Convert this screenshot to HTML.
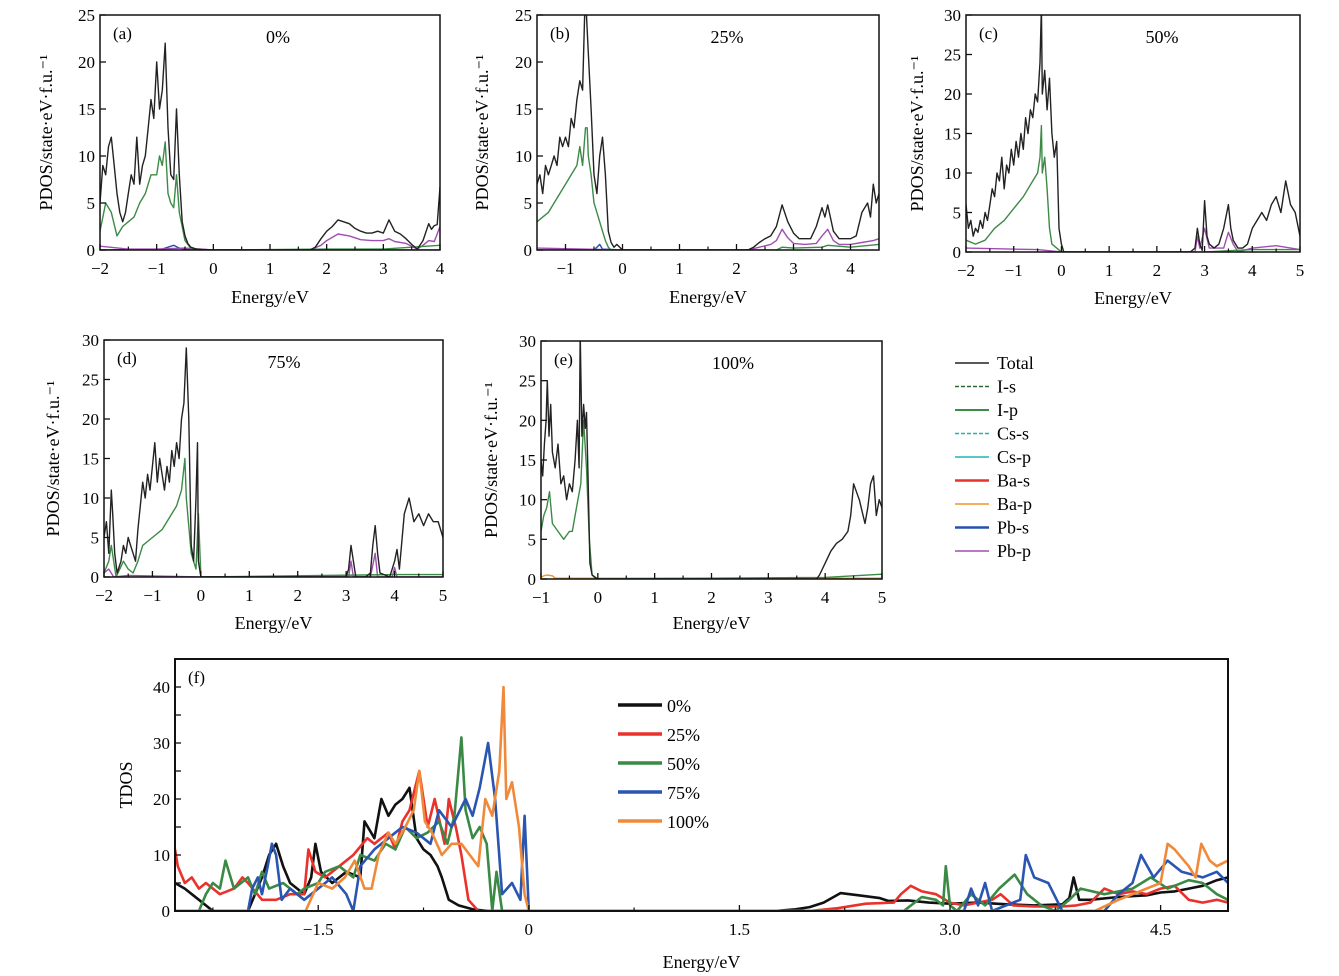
<!DOCTYPE html>
<html><head><meta charset="utf-8"><style>
body{margin:0;background:#fff;}
svg{display:block;font-family:"Liberation Serif",serif;}
</style></head><body>
<svg id="fig" width="1339" height="976" viewBox="0 0 1339 976"></svg>
<script>
// ---------- data: panel (a) 0% ----------
const aE=[-2,-1.95,-1.9,-1.85,-1.8,-1.75,-1.7,-1.65,-1.6,-1.55,-1.5,-1.45,-1.4,-1.35,-1.3,-1.25,-1.2,-1.15,-1.1,-1.05,-1,-0.95,-0.9,-0.85,-0.8,-0.75,-0.7,-0.65,-0.6,-0.55,-0.5,-0.45,-0.4,-0.3,-0.2,0,1,1.7,1.8,1.9,2,2.1,2.2,2.3,2.4,2.5,2.6,2.7,2.8,2.9,3,3.1,3.2,3.3,3.4,3.5,3.6,3.7,3.8,3.85,3.9,3.95,4];
const aTotal=[5,9,8,11,12,9,6,4,3,4,6,8,7,12,7,9,10,13,16,14,20,15,17,22,13,8,7.5,15,8,3,1.5,0.7,0.3,0.1,0.05,0,0,0,0.3,1.2,2,2.5,3.2,3,2.8,2.3,2,1.8,1.8,2,1.8,3.2,2,1.7,1.2,0.6,0.1,1,2.8,2.2,2.6,2.7,6.7];
const aIpE=[-2,-1.9,-1.8,-1.7,-1.6,-1.5,-1.4,-1.3,-1.2,-1.1,-1,-0.95,-0.9,-0.85,-0.8,-0.75,-0.7,-0.65,-0.6,-0.5,-0.4,-0.3,0,2,3,4];
const aIp=[2,5,4,1.5,2.5,3,3.5,5,6,8,8,10,9,11.5,6,5,4.5,8,4,1,0.2,0,0,0.1,0.1,0.5];
const aPbpE=[-2,-1.5,-1,-0.5,0,1.7,1.9,2,2.2,2.4,2.6,2.8,3,3.1,3.2,3.4,3.6,3.7,3.8,3.9,4];
const aPbp=[0.4,0.1,0.1,0.2,0,0,0.5,1,1.7,1.5,1.1,1,1,1.2,0.9,0.7,0.1,0.5,1,0.9,2.5];
const aPbsE=[-2,-0.9,-0.8,-0.7,-0.6,-0.4,4];
const aPbs=[0,0.1,0.3,0.5,0.2,0,0];
// ---------- panel (b) 25% ----------
const bE=[-1.5,-1.45,-1.4,-1.35,-1.3,-1.25,-1.2,-1.15,-1.1,-1.05,-1,-0.95,-0.9,-0.85,-0.8,-0.75,-0.7,-0.66,-0.64,-0.6,-0.55,-0.5,-0.45,-0.4,-0.35,-0.3,-0.25,-0.2,-0.15,-0.1,0,1,2.2,2.3,2.4,2.5,2.6,2.7,2.8,2.9,3,3.1,3.2,3.3,3.4,3.5,3.55,3.6,3.7,3.8,3.9,4,4.1,4.2,4.3,4.35,4.4,4.45,4.5];
const bTotal=[7,8,6,9,8,9,10,9,12,11,12,11,14,13,16,18,17,26,26,21,15,8,6,10,12,8,2,0.8,0.3,0.6,0,0,0,0.3,0.8,1.2,1.5,2.5,4.8,3,1.8,1.2,1.2,1.2,2.5,4.5,3.5,4.8,2,1.2,1.2,1.2,1.5,4,5,3.5,7,5,6];
const bIpE=[-1.5,-1.4,-1.3,-1.2,-1.1,-1,-0.9,-0.8,-0.75,-0.7,-0.65,-0.62,-0.6,-0.55,-0.5,-0.45,-0.4,-0.35,-0.3,-0.25,-0.2,0,2.7,2.8,3,3.5,3.6,4,4.5];
const bIp=[3,3.5,4,5,6,7,8,9,11,9,13,13,10,8,5,4,3,2,1,0.3,0,0,0,0.3,0.2,0.3,0.5,0.3,0.6];
const bPbpE=[-1.5,0,2.2,2.4,2.6,2.7,2.8,2.9,3,3.2,3.4,3.5,3.6,3.7,3.8,4,4.2,4.4,4.5];
const bPbp=[0.2,0,0,0.3,0.6,1,2.2,1.3,0.7,0.6,0.7,1.5,2.2,1,0.6,0.6,0.8,1,1.2];
const bPbsE=[-1.5,-0.5,-0.45,-0.4,-0.35,0];
const bPbs=[0,0,0.3,0.6,0.1,0];
// ---------- panel (c) 50% ----------
const cE=[-2,-1.95,-1.9,-1.85,-1.8,-1.75,-1.7,-1.65,-1.6,-1.55,-1.5,-1.45,-1.4,-1.35,-1.3,-1.25,-1.2,-1.15,-1.1,-1.05,-1,-0.95,-0.9,-0.85,-0.8,-0.75,-0.7,-0.65,-0.6,-0.55,-0.5,-0.45,-0.42,-0.4,-0.35,-0.3,-0.25,-0.2,-0.15,-0.1,-0.05,0,0.05,1,2.7,2.8,2.85,2.9,2.95,3,3.05,3.1,3.2,3.3,3.4,3.5,3.55,3.6,3.7,3.8,3.9,4,4.1,4.2,4.3,4.4,4.5,4.6,4.7,4.8,4.9,5];
const cTotal=[6,3,4,2,3,2.5,4,3,5,4,6,8,7,10,9,12,8,11,10,13,11,14,12,15,13,17,15,18,17,20,19,24,31,20,23,18,22,15,12,14,3,1,0,0,0,0.5,3,1,0.2,6.5,2,1,0.5,1,3,6,3,1.5,0.5,0.5,1,3,4,5,4,6,7,5,9,6,5,2];
const cIpE=[-2,-1.8,-1.6,-1.4,-1.2,-1,-0.8,-0.6,-0.5,-0.45,-0.42,-0.4,-0.35,-0.3,-0.25,-0.2,-0.1,0,3,4,5];
const cIp=[1.5,1,1.5,3,4,5.5,7,9,10,12,16,10,12,8,3,1,0.5,0,0,0.3,0.3];
const cPbpE=[-2,-0.5,0,2.8,2.85,2.9,3,3.1,3.4,3.5,3.6,3.7,4,4.5,5];
const cPbp=[0.5,0.3,0,0,2,0.5,3,0.5,0.5,2.5,1,0,0.5,0.8,0.3];
// ---------- panel (d) 75% ----------
const dE=[-2,-1.95,-1.9,-1.85,-1.82,-1.78,-1.73,-1.65,-1.6,-1.55,-1.5,-1.45,-1.4,-1.35,-1.3,-1.25,-1.2,-1.15,-1.1,-1.05,-1,-0.95,-0.9,-0.85,-0.8,-0.75,-0.7,-0.65,-0.6,-0.55,-0.5,-0.45,-0.4,-0.35,-0.3,-0.25,-0.2,-0.15,-0.1,-0.07,-0.05,0,1,3,3.05,3.1,3.15,3.2,3.4,3.5,3.55,3.6,3.65,3.7,3.9,4,4.05,4.1,4.2,4.3,4.4,4.5,4.6,4.7,4.8,4.9,5];
const dTotal=[5,7,3,11,8,3,0.5,2,4,3,5,4,3,2,6,9,12,10,13,11,14,17,12,15,13,11,14,12,16,14,17,15,20,22,29,20,4,2,10,17,2,0,0,0,1,4,2,0,0,0.5,4,6.5,3,0.5,0,2,3.5,1,8,10,7,8,6.5,8,7,7,5];
const dIpE=[-2,-1.9,-1.85,-1.8,-1.75,-1.6,-1.5,-1.4,-1.3,-1.2,-1,-0.8,-0.6,-0.5,-0.4,-0.33,-0.3,-0.2,-0.1,-0.05,0,4,5];
const dIp=[0.5,2,4,2,0,2,1,0.5,2,4,5,6,8,9,11,15,10,3,1,8,0,0.3,0.3];
const dPbpE=[-2,-1.9,-1.8,-1.5,0,3.05,3.1,3.15,3.5,3.6,3.65,3.95,4,4.05,5];
const dPbp=[0.5,1,0,0.2,0,0,2,0,0,3,0,0,1.2,0,0];
// ---------- panel (e) 100% ----------
const eE=[-1,-0.97,-0.94,-0.91,-0.89,-0.86,-0.83,-0.8,-0.75,-0.7,-0.65,-0.6,-0.55,-0.5,-0.45,-0.4,-0.36,-0.33,-0.31,-0.28,-0.25,-0.22,-0.2,-0.17,-0.14,-0.1,-0.05,0,1,3.85,3.9,4,4.1,4.2,4.3,4.4,4.45,4.5,4.55,4.6,4.7,4.75,4.8,4.85,4.9,4.95,5];
const eTotal=[15,13,17,20,25,18,22,16,14,17,12,13,10,12,11,15,20,14,31,18,22,19,21,12,2,0.5,0.2,0,0,0,0.5,2,3.5,4.5,5,6,8,12,11,10,7,9,12,13,8,10,9];
const eIpE=[-1,-0.95,-0.9,-0.85,-0.8,-0.7,-0.6,-0.5,-0.45,-0.4,-0.35,-0.3,-0.25,-0.2,-0.15,-0.1,0,4,5];
const eIp=[6,8,9,11,7,6,5,6,6,8,10,12,20,14,5,0.5,0,0.2,0.6];
const eBapE=[-1,-0.95,-0.9,-0.8,-0.75,5];
const eBap=[0.2,0.4,0.5,0.4,0.1,0.1];
// ---------- panel (f) TDOS ----------
const fBlkE=[-2.52,-2.45,-2.35,-2.25,-2.0,-1.95,-1.9,-1.85,-1.8,-1.75,-1.7,-1.6,-1.55,-1.52,-1.48,-1.4,-1.3,-1.2,-1.17,-1.1,-1.05,-1.0,-0.95,-0.9,-0.85,-0.8,-0.75,-0.7,-0.65,-0.62,-0.57,-0.5,-0.4,-0.29,1.75,1.9,2.0,2.1,2.22,2.35,2.5,2.56,2.7,2.85,3.0,3.2,3.4,3.6,3.8,3.85,3.88,3.92,4.0,4.2,4.4,4.5,4.6,4.7,4.8,4.9,4.98];
const fBlk=[5,4,2,0,0,3,6,10,12,8,5,3,6,12,7,5,7,6,16,13,20,17,19,20,22,13,11,10,8,6,2,1,0.3,0,0,0.3,0.7,1.5,3.2,2.8,2.3,1.8,1.9,1.5,1.3,1.5,1.2,1.0,1.2,2.3,6,2,2,2.5,2.8,3.3,3.5,4,4.5,5.5,6];
const fRedE=[-2.52,-2.5,-2.45,-2.4,-2.35,-2.3,-2.2,-2.1,-2.04,-2.0,-1.9,-1.8,-1.7,-1.6,-1.57,-1.52,-1.45,-1.35,-1.25,-1.15,-1.1,-1.0,-0.95,-0.9,-0.85,-0.78,-0.72,-0.67,-0.6,-0.57,-0.52,-0.48,-0.43,-0.36,-0.3,2.0,2.2,2.4,2.6,2.65,2.72,2.8,2.9,3.0,3.1,3.3,3.36,3.45,3.6,3.8,3.9,4.0,4.1,4.2,4.3,4.4,4.5,4.6,4.7,4.8,4.9,4.98];
const fRed=[11,8,5,6,4,5,3,4,6,5,2,2,3,3,11,7,6,8,10,13,12,14,11,16,18,25,15,20,12,20,15,10,2,0,0,0,0.5,1.3,1.5,3,4.5,3.5,3,1.5,1,2,3,1,0.8,0.8,1,1.5,4,3,3.5,3,4,4.5,2,1.5,2,1.5];
const fGrnE=[-2.52,-2.35,-2.3,-2.25,-2.2,-2.16,-2.1,-2.0,-1.95,-1.9,-1.85,-1.75,-1.65,-1.6,-1.5,-1.45,-1.35,-1.25,-1.2,-1.1,-1.02,-0.95,-0.88,-0.8,-0.72,-0.64,-0.58,-0.53,-0.48,-0.45,-0.4,-0.35,-0.3,-0.26,-0.23,-0.19,2.67,2.8,2.9,2.95,2.97,3.0,3.05,3.15,3.25,3.35,3.46,3.55,3.65,3.75,3.85,3.93,4.1,4.3,4.43,4.55,4.7,4.8,4.9,4.98];
const fGrn=[0,0,3,5,4,9,4,6,3,7,4,5,3,4,5,7,8,6,10,9,12,11,15,13,14,16,12,17,31,18,13,15,12,0,7,0,0,2.5,2,1,8,1,0,3,1,4,6.5,3,1,0,2,4,3,4,6,4,5.5,5,3,2];
const fBluE=[-2.52,-2.0,-1.97,-1.93,-1.9,-1.86,-1.83,-1.8,-1.76,-1.7,-1.6,-1.5,-1.4,-1.3,-1.25,-1.2,-1.1,-1.0,-0.9,-0.8,-0.7,-0.64,-0.55,-0.45,-0.4,-0.35,-0.29,-0.24,-0.19,-0.12,-0.06,-0.03,0,3.1,3.15,3.2,3.25,3.3,3.5,3.54,3.6,3.7,3.8,4.1,4.2,4.3,4.36,4.45,4.55,4.65,4.8,4.9,4.98];
const fBlu=[0,0,4,6,3,8,12,10,2,4,2,4,6,3,0,8,11,13,15,14,12,18,15,20,17,22,30,20,3,5,2,17,0,0,4,1,5,0,2,10,6,5,0,0,3,5,10,6,9,7,6,7,5];
const fOrgE=[-2.52,-1.59,-1.5,-1.4,-1.31,-1.24,-1.17,-1.12,-1.07,-1.0,-0.95,-0.88,-0.82,-0.78,-0.74,-0.69,-0.62,-0.55,-0.48,-0.42,-0.36,-0.31,-0.26,-0.21,-0.18,-0.16,-0.12,-0.07,-0.03,0,4.03,4.2,4.4,4.5,4.55,4.6,4.7,4.75,4.79,4.85,4.9,4.98];
const fOrg=[0,0,5,4,6,9,4,4,10,14,12,15,18,25,16,14,10,12,12,10,8,20,17,25,40,20,23,15,3,0,0,2,4,5,12,11,8,6,12,9,8,9];
const fTickLabels=["\u22121.5","0","1.5","3.0","4.5"];
const fLegendNames=["0%","25%","50%","75%","100%"];
const sideLegendNames=["Total","I-s","I-p","Cs-s","Cs-p","Ba-s","Ba-p","Pb-s","Pb-p"];

const NS="http://www.w3.org/2000/svg";
const svg=document.getElementById('fig');
function mk(tag,attrs,parent){const e=document.createElementNS(NS,tag);for(const k in attrs)e.setAttribute(k,attrs[k]);(parent||svg).appendChild(e);return e;}
const C={tot:"#222",ip:"#3d8a47",pbp:"#a04fb0",pbs:"#2550b0",bap:"#f0962a"};
let clipN=0;

function panel(p){
  const g=mk('g',{});
  
  
  const sx=v=>p.x0+(v-p.xmin)/(p.xmax-p.xmin)*(p.x1-p.x0);
  const sy=v=>p.y0-(v/p.ymax)*(p.y0-p.yt);
  const cid='clip'+(clipN++);
  const cp=mk('clipPath',{id:cid},g);mk('rect',{x:p.x0,y:p.yt,width:p.x1-p.x0,height:p.y0-p.yt},cp);
  const sg=mk('g',{'clip-path':'url(#'+cid+')'},g);
  p.series.forEach(s=>{
    let d='';s.e.forEach((e,i)=>{d+=(i?'L':'M')+sx(e).toFixed(1)+' '+sy(s.v[i]).toFixed(1);});
    const path=mk('path',{d:d,fill:'none',stroke:s.c,'stroke-width':s.w||1.4,'stroke-linejoin':'round'},sg);
    
    
  });
  const fr=mk('rect',{x:p.x0,y:p.yt,width:p.x1-p.x0,height:p.y0-p.yt,fill:'none',stroke:'#111','stroke-width':p.fw||1.5},g);
  
  
  // x ticks
  p.xt.forEach((v,i)=>{
    const x=sx(v);
    mk('line',{x1:x,x2:x,y1:p.y0,y2:p.y0-6,stroke:'#111','stroke-width':1.3},g);
    const t=mk('text',{x:x,y:p.y0+24,'text-anchor':'middle','font-size':p.fs||17},g);
    t.textContent=p.xl?p.xl[i]:(v<0?'\u2212'+(-v):String(v));
    
    
  });
  (p.xm||[]).forEach(v=>{const x=sx(v);mk('line',{x1:x,x2:x,y1:p.y0,y2:p.y0-3.5,stroke:'#111','stroke-width':1.2},g);});
  p.yt2.forEach(v=>{
    const y=sy(v);
    mk('line',{x1:p.x0,x2:p.x0+6,y1:y,y2:y,stroke:'#111','stroke-width':1.3},g);
    if(p.ylab===undefined||p.ylab.includes(v)){
      const t=mk('text',{x:p.x0-5,y:y+6,'text-anchor':'end','font-size':p.fs||17},g);
      t.textContent=String(v);
      
      
    }
  });
  const xt=mk('text',{x:(p.x0+p.x1)/2,y:p.y0+p.xtOff,'text-anchor':'middle','font-size':18},g);
  xt.textContent='Energy/eV';
  
  
  const yx=p.ytx, yy=(p.y0+p.yt)/2;
  const yt=mk('text',{x:yx,y:yy,'text-anchor':'middle','font-size':18,transform:'rotate(-90 '+yx+' '+yy+')'},g);
  yt.textContent=p.ytitle;
  
  
  const pl=mk('text',{x:p.x0+13,y:p.yt+24,'font-size':17},g);
  pl.textContent=p.label;
  
  
  if(p.title){
    const tt=mk('text',{x:p.tx,y:p.yt+28,'text-anchor':'middle','font-size':18},g);
    tt.textContent=p.title;
    
    
  }
  return {sx,sy};
}
const ytitle='PDOS/state\u00B7eV\u00B7f.u.\u207B\u00B9';
const r=(a,b,s)=>{const o=[];for(let v=a;v<=b+1e-9;v+=s)o.push(+v.toFixed(2));return o;};

panel({id:'a',x0:100,x1:440,xmin:-2,xmax:4,y0:250,yt:15,ymax:25,xt:r(-2,4,1),xm:r(-1.5,3.5,1),yt2:r(0,25,5),xtOff:53,ytx:52,ytitle:ytitle,label:'(a)',title:'0%',tx:278,
 series:[{e:aPbsE,v:aPbs,c:C.pbs,name:'pb-s-line'},{e:aPbpE,v:aPbp,c:C.pbp,name:'pb-p-line'},{e:aIpE,v:aIp,c:C.ip,name:'i-p-line'},{e:aE,v:aTotal,c:C.tot,name:'total-line'}]});
panel({id:'b',x0:537,x1:879,xmin:-1.5,xmax:4.5,y0:250,yt:15,ymax:25,xt:r(-1,4,1),xm:r(-0.5,4,1),yt2:r(0,25,5),xtOff:53,ytx:488,ytitle:ytitle,label:'(b)',title:'25%',tx:727,
 series:[{e:bPbsE,v:bPbs,c:C.pbs,name:'pb-s-line'},{e:bPbpE,v:bPbp,c:C.pbp,name:'pb-p-line'},{e:bIpE,v:bIp,c:C.ip,name:'i-p-line'},{e:bE,v:bTotal,c:C.tot,name:'total-line'}]});
panel({id:'c',x0:966,x1:1300,xmin:-2,xmax:5,y0:252,yt:15,ymax:30,xt:r(-2,5,1),xm:r(-1.5,4.5,1),yt2:r(0,30,5),xtOff:52,ytx:923,ytitle:ytitle,label:'(c)',title:'50%',tx:1162,
 series:[{e:cPbpE,v:cPbp,c:C.pbp,name:'pb-p-line'},{e:cIpE,v:cIp,c:C.ip,name:'i-p-line'},{e:cE,v:cTotal,c:C.tot,name:'total-line'}]});
panel({id:'d',x0:104,x1:443,xmin:-2,xmax:5,y0:577,yt:340,ymax:30,xt:r(-2,5,1),xm:r(-1.5,4.5,1),yt2:r(0,30,5),xtOff:52,ytx:59,ytitle:ytitle,label:'(d)',title:'75%',tx:284,
 series:[{e:dPbpE,v:dPbp,c:C.pbp,name:'pb-p-line'},{e:dIpE,v:dIp,c:C.ip,name:'i-p-line'},{e:dE,v:dTotal,c:C.tot,name:'total-line'}]});
panel({id:'e',x0:541,x1:882,xmin:-1,xmax:5,y0:579,yt:341,ymax:30,xt:r(-1,5,1),xm:r(-0.5,4.5,1),yt2:r(0,30,5),xtOff:50,ytx:497,ytitle:ytitle,label:'(e)',title:'100%',tx:733,
 series:[{e:eBapE,v:eBap,c:C.bap,name:'ba-p-line'},{e:eIpE,v:eIp,c:C.ip,name:'i-p-line'},{e:eE,v:eTotal,c:C.tot,name:'total-line'}]});
panel({id:'f',x0:175,x1:1228,xmin:-2.52,xmax:4.98,y0:911,yt:659,ymax:45,fw:2,xt:[-1.5,0,1.5,3,4.5],xl:fTickLabels,xm:[-2.25,-0.75,0.75,2.25,3.75],yt2:r(0,40,5),ylab:[0,10,20,30,40],xtOff:57,ytx:132,ytitle:'TDOS',label:'(f)',
 series:[{e:fBlkE,v:fBlk,c:'#111',w:2.6,name:'tdos-0pct'},{e:fRedE,v:fRed,c:'#e8322b',w:2.6,name:'tdos-25pct'},{e:fGrnE,v:fGrn,c:'#3a8a45',w:2.6,name:'tdos-50pct'},{e:fBluE,v:fBlu,c:'#2a55b0',w:2.6,name:'tdos-75pct'},{e:fOrgE,v:fOrg,c:'#f08a3a',w:2.6,name:'tdos-100pct'}]});

// legend (f)
const fCols=['#111','#e8322b','#3a8a45','#2a55b0','#f08a3a'];
fLegendNames.forEach((n,i)=>{
  const y=705+i*29;
  const g=mk('g',{});
  
  
  mk('line',{x1:618,x2:662,y1:y,y2:y,stroke:fCols[i],'stroke-width':3.5},g);
  const t=mk('text',{x:667,y:y+7,'font-size':18},g);t.textContent=n;
});
// side legend
const sCols=['#222','#2d6b32','#3d8a47','#1fb5b5','#1fb5b5','#e8322b','#f0962a','#2550b0','#a04fb0'];
const sDash=[null,'4 2',null,'4 2',null,null,null,null,null];
const sW=[1.4,1.4,2,1.4,1.4,2.5,1.6,2.5,1.6];
sideLegendNames.forEach((n,i)=>{
  const y=363+i*23.5;
  const g=mk('g',{});
  
  
  const l=mk('line',{x1:955,x2:989,y1:y,y2:y,stroke:sCols[i],'stroke-width':sW[i]},g);
  if(sDash[i])l.setAttribute('stroke-dasharray',sDash[i]);
  const t=mk('text',{x:997,y:y+6,'font-size':18},g);t.textContent=n;
});
</script>
</body></html>
